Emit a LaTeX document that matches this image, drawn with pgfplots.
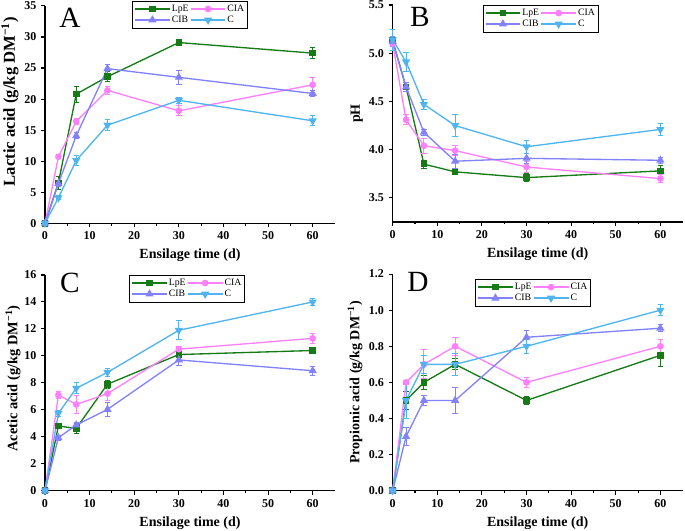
\documentclass[border=0pt]{standalone}
\usepackage{fontspec}
\setmainfont{Liberation Serif}
\usepackage{pgfplots}
\pgfplotsset{compat=1.18}
\usepackage{pgfplotstable}

\definecolor{cLpE}{RGB}{22,122,22}
\definecolor{cCIA}{RGB}{255,128,255}
\definecolor{cCIB}{RGB}{130,130,255}
\definecolor{cC}{RGB}{80,180,240}

\pgfplotstableread{
x  LpE LpEe CIA CIAe CIB CIBe C Ce
0  0 0 0 0 0 0 0 0
3  6.5 1.0 10.7 0.3 6.4 0.4 4.1 0.3
7  20.8 1.3 16.4 0.5 14.1 0.5 10.1 0.8
14 23.6 0.8 21.4 0.7 24.9 0.7 15.8 0.9
30 29.1 0.5 18.1 0.8 23.5 1.1 19.8 0.5
60 27.4 0.9 22.3 1.2 20.9 0.5 16.5 0.8
}\dataA

\pgfplotstableread{
x  LpE LpEe CIA CIAe CIB CIBe C Ce
0  5.13 0.03 5.10 0.03 5.12 0.05 5.14 0.11
3  4.65 0.03 4.31 0.05 4.65 0.05 4.91 0.10
7  3.85 0.04 4.04 0.08 4.18 0.03 4.47 0.05
14 3.77 0.03 3.99 0.05 3.88 0.07 4.25 0.11
30 3.71 0.04 3.82 0.06 3.91 0.05 4.03 0.07
60 3.78 0.06 3.70 0.04 3.89 0.03 4.21 0.065
}\dataB

\pgfplotstableread{
x  LpE LpEe CIA CIAe CIB CIBe C Ce
0  0 0 0 0 0 0 0 0
3  4.8 0.15 7.1 0.25 3.93 0.2 5.74 0.2
7  4.62 0.4 6.4 0.7 4.87 0.2 7.6 0.4
14 7.9 0.3 7.2 0.5 6.03 0.5 8.78 0.3
30 10.1 0.2 10.5 0.2 9.7 0.4 11.9 0.7
60 10.4 0.2 11.3 0.35 8.9 0.35 14.0 0.25
}\dataC

\pgfplotstableread{
x  LpE LpEe CIA CIAe CIB CIBe C Ce
0  0 0 0 0 0 0 0 0
3  0.5 0.05 0.6 0.01 0.3 0.05 0.5 0.1
7  0.6 0.04 0.7 0.08 0.5 0.03 0.7 0.05
14 0.7 0.03 0.8 0.05 0.5 0.07 0.7 0.06
30 0.5 0.02 0.6 0.03 0.85 0.04 0.8 0.04
60 0.75 0.06 0.8 0.04 0.9 0.02 1.0 0.03
}\dataD

\pgfplotsset{
 eb/.style={/pgfplots/error bars/y dir=both, /pgfplots/error bars/y explicit,
   /pgfplots/error bars/error bar style={line width=0.7pt,solid},
   /pgfplots/error bars/error mark options={rotate=90, mark size=2pt, line width=0.7pt}},
 sLpE/.style={eb, color=cLpE, mark=square*, line width=1pt, mark size=2pt},
 sCIA/.style={eb, color=cCIA, mark=*, line width=1pt, mark size=2pt},
 sCIB/.style={eb, color=cCIB, mark=triangle*, line width=1pt, mark size=2.6pt},
 sC/.style={eb, color=cC, mark=triangle*, mark options={rotate=180}, line width=1pt, mark size=2.6pt},
 panel/.style={
  scale only axis, width=217.5pt, clip=false,
  axis lines=left, axis line style={-, line width=0.8pt},
  xmin=0, xmax=65, xtick={0,10,...,60}, minor x tick num=1,
  tick align=outside, major tick length=3pt, minor tick length=1.8pt,
  tick style={line width=0.8pt, black},
  tick label style={font=\bfseries\fontsize{9}{10}\selectfont},
  /pgf/number format/assume math mode=true,
  xlabel={Ensilage time (d)},
  xlabel style={font=\bfseries\fontsize{10.5}{12}\selectfont, at={(axis description cs:0.5,0)}, anchor=center, yshift=-24pt},
  legend style={draw=black, font=\fontsize{7.3}{8}\selectfont, legend columns=2, anchor=north west, inner xsep=1.5pt, inner ysep=1.5pt, row sep=-0.5pt, column sep=0pt,
    nodes={inner xsep=1pt, inner ysep=1.2pt}},
  legend cell align=left,
  legend image post style={line width=1pt},
  legend image code/.code={\draw[mark repeat=2,mark phase=2,#1] plot coordinates {(0cm,0cm) (0.46cm,0cm) (0.92cm,0cm)};},
 },
}

\begin{document}
\begin{tikzpicture}
\path[use as bounding box] (0,0) rectangle (513.75pt,398.25pt);

% A
\begin{axis}[panel, at={(33.75pt,230.8pt)}, height=163pt,
  ymin=0, ymax=35, ytick={0,5,...,35},
  ylabel={Lactic acid (g/kg DM\textsuperscript{\textminus1})},
  ylabel style={font=\bfseries\fontsize{12.5}{14}\selectfont, at={(axis description cs:-0.121,0.56)}, anchor=center},
  legend style={at={(0.30,1.023)}}]
\addplot[sLpE] table[x=x,y=LpE,y error=LpEe]{\dataA};
\addplot[sCIA] table[x=x,y=CIA,y error=CIAe]{\dataA};
\addplot[sCIB] table[x=x,y=CIB,y error=CIBe]{\dataA};
\addplot[sC] table[x=x,y=C,y error=Ce]{\dataA};
\legend{LpE,CIA,CIB,C}
\node[font=\fontsize{22}{22}\selectfont] at (rel axis cs:0.086,0.945) {A};
\end{axis}

% B
\begin{axis}[panel, at={(294.5pt,231.75pt)}, height=162.75pt,
  ymin=3.25, ymax=5.5, ytick={3.5,4.0,4.5,5.0,5.5},
  yticklabel style={/pgf/number format/.cd, fixed, fixed zerofill, precision=1},
  ylabel={pH},
  ylabel style={font=\bfseries\fontsize{10.5}{12}\selectfont, at={(axis description cs:-0.124,0.5)}, anchor=center},
  legend style={at={(0.31,1.0)}}]
\addplot[sLpE] table[x=x,y=LpE,y error=LpEe]{\dataB};
\addplot[sCIA] table[x=x,y=CIA,y error=CIAe]{\dataB};
\addplot[sCIB] table[x=x,y=CIB,y error=CIBe]{\dataB};
\addplot[sC] table[x=x,y=C,y error=Ce]{\dataB};
\legend{LpE,CIA,CIB,C}
\node[font=\fontsize{22}{22}\selectfont] at (rel axis cs:0.094,0.945) {B};
\end{axis}

% C
\begin{axis}[panel, at={(33.75pt,30.2pt)}, height=161.8pt,
  ymin=0, ymax=16, ytick={0,2,...,16},
  ylabel={Acetic acid (g/kg DM\textsuperscript{\textminus1})},
  ylabel style={font=\bfseries\fontsize{10.8}{12}\selectfont, at={(axis description cs:-0.11,0.52)}, anchor=center},
  legend style={at={(0.29,1.0)}}]
\addplot[sLpE] table[x=x,y=LpE,y error=LpEe]{\dataC};
\addplot[sCIA] table[x=x,y=CIA,y error=CIAe]{\dataC};
\addplot[sCIB] table[x=x,y=CIB,y error=CIBe]{\dataC};
\addplot[sC] table[x=x,y=C,y error=Ce]{\dataC};
\legend{LpE,CIA,CIB,C}
\node[font=\fontsize{22}{22}\selectfont] at (rel axis cs:0.086,0.963) {C};
\end{axis}

% D
\begin{axis}[panel, at={(294.5pt,30.2pt)}, height=162.5pt,
  ymin=0, ymax=1.2, ytick={0,0.2,...,1.2},
  yticklabel style={/pgf/number format/.cd, fixed, fixed zerofill, precision=1},
  ylabel={Propionic acid (g/kg DM\textsuperscript{\textminus1})},
  ylabel style={font=\bfseries\fontsize{10.5}{12}\selectfont, at={(axis description cs:-0.13,0.5)}, anchor=center},
  legend style={at={(0.284,0.977)}}]
\addplot[sLpE] table[x=x,y=LpE,y error=LpEe]{\dataD};
\addplot[sCIA] table[x=x,y=CIA,y error=CIAe]{\dataD};
\addplot[sCIB] table[x=x,y=CIB,y error=CIBe]{\dataD};
\addplot[sC] table[x=x,y=C,y error=Ce]{\dataD};
\legend{LpE,CIA,CIB,C}
\node[font=\fontsize{22}{22}\selectfont] at (rel axis cs:0.087,0.963) {D};
\end{axis}
\end{tikzpicture}
\end{document}
